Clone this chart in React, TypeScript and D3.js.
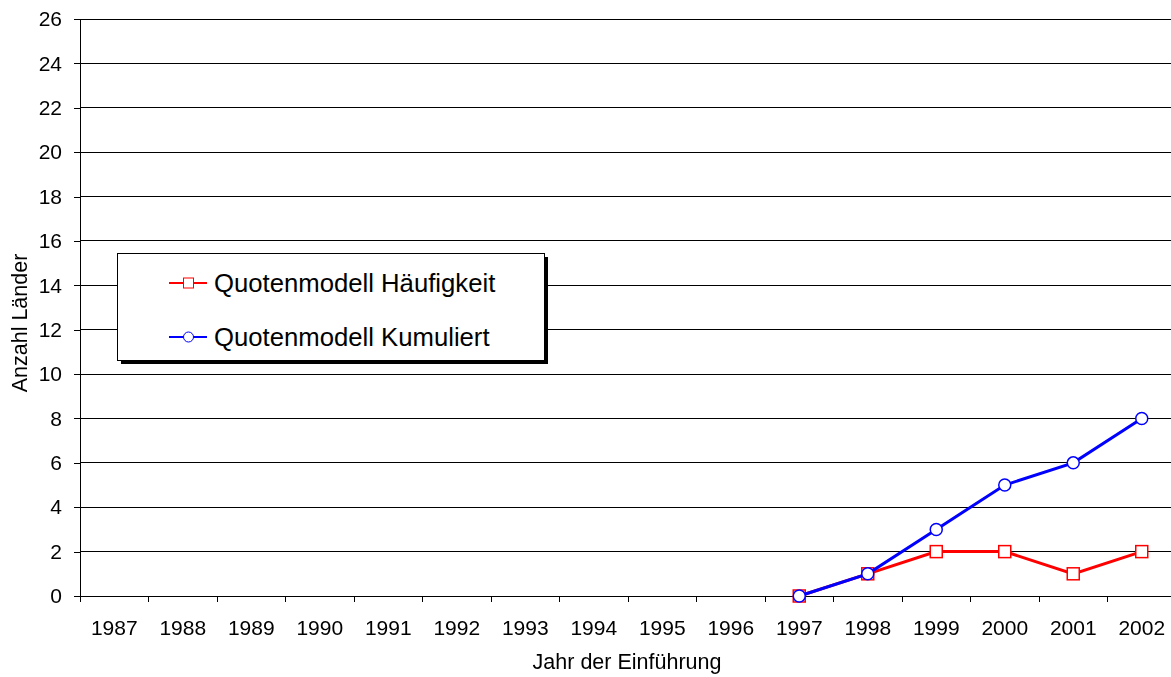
import { useRef, useEffect } from 'react'
import * as d3 from 'd3'

const years = ['1987', '1988', '1989', '1990', '1991', '1992', '1993', '1994', '1995', '1996', '1997', '1998', '1999', '2000', '2001', '2002']
const haeufigkeitYears = ['1997', '1998', '1999', '2000', '2001', '2002']
const haeufigkeit = [0, 1, 2, 2, 1, 2]
const kumuliert = [0, 1, 3, 5, 6, 8]
const yTicks = [0, 2, 4, 6, 8, 10, 12, 14, 16, 18, 20, 22, 24, 26]

function App() {
  const ref = useRef<HTMLDivElement>(null)

  useEffect(() => {
    if (!ref.current) return
    const container = ref.current
    container.innerHTML = ''

    const width = 1171
    const height = 677
    const margin = { top: 19, right: -5, bottom: 81, left: 80 }
    const font = 'Liberation Sans, Arial, sans-serif'

    const svg = d3.select(container)
      .append('svg')
      .attr('width', width)
      .attr('height', height)
      .style('display', 'block')
      .style('font-family', font)

    const x = d3.scaleBand()
      .domain(years)
      .range([margin.left, width - margin.right])

    const y = d3.scaleLinear()
      .domain([0, 26])
      .range([height - margin.bottom, margin.top])

    // Gridlines
    svg.append('g')
      .selectAll('line')
      .data(yTicks.filter(d => d > 0))
      .enter()
      .append('line')
      .attr('x1', margin.left)
      .attr('x2', width)
      .attr('y1', d => y(d))
      .attr('y2', d => y(d))
      .attr('stroke', '#000')
      .attr('stroke-width', 1)
      .attr('shape-rendering', 'crispEdges')

    // Y axis
    const yAxis = svg.append('g')
      .attr('transform', `translate(${margin.left},0)`)
      .call(d3.axisLeft(y).tickValues(yTicks).tickSize(6).tickPadding(12))
    yAxis.selectAll('text').attr('font-size', '21px').attr('font-family', font).attr('fill', '#000')
    yAxis.selectAll('line, path').attr('stroke', '#000').attr('shape-rendering', 'crispEdges')

    // X axis: ticks between categories
    const xAxis = svg.append('g')
      .attr('transform', `translate(0,${y(0)})`)
    xAxis.append('line')
      .attr('x1', margin.left)
      .attr('x2', width)
      .attr('stroke', '#000')
      .attr('shape-rendering', 'crispEdges')
    xAxis.selectAll('line.tick')
      .data(years)
      .enter()
      .append('line')
      .attr('class', 'tick')
      .attr('x1', d => x(d)!)
      .attr('x2', d => x(d)!)
      .attr('y1', 0)
      .attr('y2', 6)
      .attr('stroke', '#000')
      .attr('shape-rendering', 'crispEdges')
    xAxis.selectAll('text')
      .data(years)
      .enter()
      .append('text')
      .attr('x', d => x(d)! + x.bandwidth() / 2)
      .attr('y', 39)
      .attr('text-anchor', 'middle')
      .attr('font-size', '21px')
      .attr('fill', '#000')
      .text(d => d)

    // Axis titles
    svg.append('text')
      .attr('transform', 'rotate(-90)')
      .attr('x', -323)
      .attr('y', 27)
      .attr('text-anchor', 'middle')
      .attr('font-size', '21.5px')
      .text('Anzahl Länder')

    svg.append('text')
      .attr('x', 627)
      .attr('y', 669)
      .attr('text-anchor', 'middle')
      .attr('font-size', '21.5px')
      .text('Jahr der Einführung')

    const cx = (d: string) => x(d)! + x.bandwidth() / 2

    const redData = haeufigkeitYears.map((yr, i) => ({ yr, v: haeufigkeit[i] }))
    const blueData = haeufigkeitYears.map((yr, i) => ({ yr, v: kumuliert[i] }))

    const line = d3.line<{ yr: string; v: number }>()
      .x(d => cx(d.yr))
      .y(d => y(d.v))

    // Red series
    svg.append('path')
      .datum(redData)
      .attr('d', line)
      .attr('fill', 'none')
      .attr('stroke', '#ff0000')
      .attr('stroke-width', 3)
    svg.selectAll('rect.red')
      .data(redData)
      .enter()
      .append('rect')
      .attr('class', 'red')
      .attr('x', d => cx(d.yr) - 6)
      .attr('y', d => y(d.v) - 6)
      .attr('width', 12)
      .attr('height', 12)
      .attr('fill', '#fff')
      .attr('stroke', '#ff0000')
      .attr('stroke-width', 1.5)

    // Blue series
    svg.append('path')
      .datum(blueData)
      .attr('d', line)
      .attr('fill', 'none')
      .attr('stroke', '#0000ff')
      .attr('stroke-width', 3)
    svg.selectAll('circle.blue')
      .data(blueData)
      .enter()
      .append('circle')
      .attr('class', 'blue')
      .attr('cx', d => cx(d.yr))
      .attr('cy', d => y(d.v))
      .attr('r', 6)
      .attr('fill', '#fff')
      .attr('stroke', '#0000ff')
      .attr('stroke-width', 1.5)

    // Legend
    const lg = svg.append('g').attr('transform', 'translate(117,253)')
    lg.append('rect')
      .attr('x', 4).attr('y', 4)
      .attr('width', 427).attr('height', 107)
      .attr('fill', '#000')
    lg.append('rect')
      .attr('x', 0.5).attr('y', 0.5)
      .attr('width', 427).attr('height', 107)
      .attr('fill', '#fff')
      .attr('stroke', '#000')
      .attr('stroke-width', 1)

    const items = [
      { label: 'Quotenmodell Häufigkeit', color: '#ff0000', shape: 'rect', cy: 30 },
      { label: 'Quotenmodell Kumuliert', color: '#0000ff', shape: 'circle', cy: 84 }
    ]
    items.forEach(it => {
      lg.append('line')
        .attr('x1', 52).attr('x2', 90)
        .attr('y1', it.cy).attr('y2', it.cy)
        .attr('stroke', it.color)
        .attr('stroke-width', 2)
      if (it.shape === 'rect') {
        lg.append('rect')
          .attr('x', 66.5).attr('y', it.cy - 5)
          .attr('width', 10).attr('height', 10)
          .attr('fill', '#fff')
          .attr('stroke', it.color)
          .attr('stroke-width', 1)
      } else {
        lg.append('circle')
          .attr('cx', 71.5).attr('cy', it.cy)
          .attr('r', 5)
          .attr('fill', '#fff')
          .attr('stroke', it.color)
          .attr('stroke-width', 1)
      }
      lg.append('text')
        .attr('x', 97)
        .attr('y', it.cy + 9)
        .attr('font-size', '25.7px')
        .attr('fill', '#000')
        .text(it.label)
    })
  }, [])

  return <div ref={ref} style={{ position: 'fixed', left: 0, top: 0 }} />
}

export default App
